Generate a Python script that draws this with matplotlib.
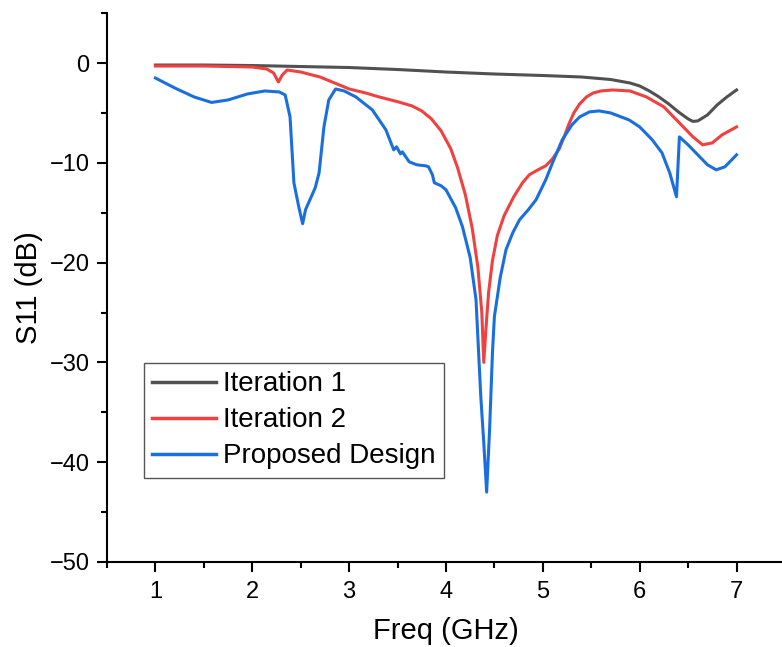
"""S11 versus frequency for the two iterations and the proposed design."""

import matplotlib

matplotlib.use("Agg")
import matplotlib.pyplot as plt
from matplotlib.ticker import MultipleLocator

plt.rcParams["font.family"] = ["Liberation Sans", "DejaVu Sans"]

# Iteration 1
IT1_F = [1.0, 1.5, 2.0, 2.5, 3.0, 3.5, 4.0, 4.5, 5.0, 5.4, 5.7, 5.9, 6.0, 6.1,
         6.2, 6.3, 6.4, 6.5, 6.55, 6.6, 6.7, 6.8, 6.9, 7.0]
IT1_S = [-0.2, -0.2, -0.25, -0.35, -0.45, -0.65, -0.9, -1.1, -1.25, -1.4, -1.65,
         -2.0, -2.3, -2.8, -3.4, -4.1, -4.9, -5.6, -5.85, -5.8, -5.2, -4.2, -3.4, -2.7]

# Iteration 2
IT2_F = [1.0, 1.5, 2.0, 2.15, 2.22, 2.27, 2.31, 2.36, 2.5, 2.7, 2.85, 3.0, 3.17,
         3.31, 3.51, 3.65, 3.75, 3.85, 3.95, 4.05, 4.12, 4.2, 4.27, 4.33, 4.37,
         4.39, 4.41, 4.44, 4.48, 4.53, 4.6, 4.7, 4.79, 4.86, 4.95, 5.03, 5.1, 5.17,
         5.22, 5.27, 5.32, 5.38, 5.45, 5.52, 5.6, 5.72, 5.9, 6.07, 6.25, 6.41,
         6.55, 6.65, 6.75, 6.85, 7.0]
IT2_S = [-0.3, -0.3, -0.4, -0.6, -1.0, -1.9, -1.2, -0.7, -0.9, -1.4, -2.0, -2.6,
         -3.0, -3.4, -3.9, -4.3, -4.8, -5.6, -6.8, -8.6, -10.5, -13.2, -16.5, -20.5,
         -25.0, -30.0, -27.0, -23.0, -19.8, -17.3, -15.3, -13.4, -12.0, -11.2,
         -10.7, -10.3, -9.6, -8.6, -7.4, -6.1, -5.0, -4.1, -3.4, -3.0, -2.8, -2.7,
         -2.8, -3.4, -4.4, -6.0, -7.4, -8.2, -8.0, -7.2, -6.4]

# Proposed design
PD_F = [1.0, 1.2, 1.4, 1.58, 1.75, 1.95, 2.13, 2.28, 2.34, 2.39, 2.43, 2.48, 2.52,
        2.55, 2.65, 2.69, 2.74, 2.79, 2.86, 2.95, 3.07, 3.24, 3.38, 3.46, 3.49,
        3.53, 3.55, 3.62, 3.7, 3.79, 3.82, 3.86, 3.88, 3.95, 4.0, 4.1, 4.17, 4.25,
        4.31, 4.36, 4.39, 4.42, 4.45, 4.48, 4.5, 4.56, 4.62, 4.69, 4.76, 4.85,
        4.93, 5.03, 5.1, 5.2, 5.3, 5.38, 5.48, 5.58, 5.7, 5.89, 6.0, 6.13, 6.23,
        6.31, 6.38, 6.41, 6.5, 6.62, 6.7, 6.79, 6.88, 7.0]
PD_S = [-1.5, -2.5, -3.4, -3.95, -3.7, -3.1, -2.8, -2.9, -3.2, -5.4, -12.0, -14.4,
        -16.1, -14.7, -12.5, -11.0, -6.4, -3.7, -2.6, -2.8, -3.4, -4.7, -6.7, -8.7,
        -8.4, -9.1, -8.9, -9.9, -10.2, -10.3, -10.4, -11.2, -12.0, -12.3, -12.7,
        -14.5, -16.4, -19.5, -23.7, -33.5, -38.0, -43.0, -36.8, -29.0, -25.4,
        -21.5, -18.7, -17.0, -15.7, -14.7, -13.7, -11.7, -10.0, -7.7, -6.2, -5.4,
        -4.9, -4.8, -5.0, -5.7, -6.4, -7.7, -9.0, -11.0, -13.4, -7.4, -8.2, -9.4,
        -10.2, -10.7, -10.4, -9.2]

GREY = "#515151"
RED = "#F14040"
BLUE = "#1A6FDF"


def main() -> None:
    fig = plt.figure(figsize=(7.82, 6.47), dpi=100)
    ax = fig.add_axes([0.1368, 0.1314, 0.8670, 0.8483])

    lw = 2.2
    ax.plot(IT1_F, IT1_S, color=GREY, lw=lw, label="Iteration 1", solid_joinstyle="round")
    ax.plot(IT2_F, IT2_S, color=RED, lw=lw, label="Iteration 2", solid_joinstyle="round")
    ax.plot(PD_F, PD_S, color=BLUE, lw=lw, label="Proposed Design", solid_joinstyle="round")

    ax.set_xlim(0.5, 7.5)
    ax.set_ylim(-50, 5)
    ax.xaxis.set_major_locator(MultipleLocator(1))
    ax.xaxis.set_minor_locator(MultipleLocator(0.5))
    ax.yaxis.set_major_locator(MultipleLocator(10))
    ax.yaxis.set_minor_locator(MultipleLocator(5))
    ax.set_xticks(range(1, 8))

    for side in ("top", "right"):
        ax.spines[side].set_visible(False)
    for side in ("left", "bottom"):
        ax.spines[side].set_linewidth(1.5)
    ax.tick_params(which="major", direction="out", length=7.5, width=1.5,
                   labelsize=17)
    ax.tick_params(which="minor", direction="out", length=4, width=1.5)
    ax.tick_params(axis="x", which="major", pad=6.5)
    ax.tick_params(axis="y", which="major", pad=5)

    ax.set_xlabel("Freq (GHz)", fontsize=21, labelpad=10)
    ax.set_ylabel("S11 (dB)", fontsize=21, labelpad=4.5)

    leg = ax.legend(loc="upper left", bbox_to_anchor=(144 / 782, 1 - 363 / 647),
                    bbox_transform=fig.transFigure, borderaxespad=0,
                    fontsize=20, handlelength=2.3, handletextpad=0.25,
                    borderpad=0.3, labelspacing=0.36, fancybox=False, framealpha=1)
    leg.get_frame().set_edgecolor("#555555")
    leg.get_frame().set_linewidth(1.0)
    for line in leg.get_lines():
        line.set_linewidth(2.5)

    fig.savefig("out.png", dpi=100)
    plt.close(fig)


if __name__ == "__main__":
    main()
